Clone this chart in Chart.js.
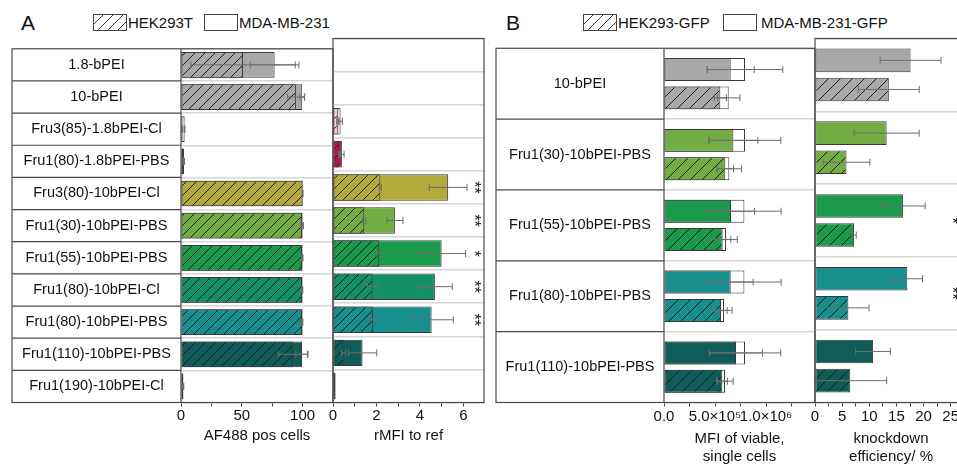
<!DOCTYPE html>
<html>
<head>
<meta charset="utf-8">
<script src="https://cdn.jsdelivr.net/npm/chart.js@4/dist/chart.umd.min.js"></script>
<style>
  html, body { margin: 0; padding: 0; background: #fff; overflow: hidden; }
  body { width: 957px; height: 464px; position: relative; font-family: "Liberation Sans", Arial, sans-serif; color: #111; }
  canvas { position: absolute; }
  .letter { position: absolute; font-size: 21px; line-height: 22px; }
  .sw { position: absolute; width: 32px; height: 15px; border: 1px solid #444; background: #fff; }
  .hatch { background: repeating-linear-gradient(135deg, #fff 0 6px, #333 6px 7px); }
  .key { position: absolute; font-size: 15px; line-height: 17px; white-space: nowrap; }
</style>
</head>
<body>
<div class="letter" style="left:21px;top:12px">A</div>
<span class="sw hatch" style="left:93px;top:14px"></span><span class="key" style="left:128px;top:14px">HEK293T</span>
<span class="sw" style="left:204px;top:14px"></span><span class="key" style="left:239px;top:14px">MDA-MB-231</span>
<div class="letter" style="left:506px;top:12px">B</div>
<span class="sw hatch" style="left:583px;top:14px"></span><span class="key" style="left:618px;top:14px">HEK293-GFP</span>
<span class="sw" style="left:723px;top:14px"></span><span class="key" style="left:761px;top:14px">MDA-MB-231-GFP</span>

<canvas id="af488" width="326" height="434" style="left:8px;top:30px"></canvas>
<canvas id="rmfi" width="167" height="434" style="left:323px;top:30px"></canvas>
<canvas id="mfi" width="324" height="440" style="left:492px;top:30px"></canvas>
<canvas id="kd" width="170" height="440" style="left:805px;top:30px"></canvas>

<script>
Chart.defaults.font.family = '"Liberation Sans", Arial, sans-serif';
Chart.defaults.font.size = 15;
Chart.defaults.color = '#111';
Chart.defaults.animation = false;

// ---------- panel A data ----------
const categoriesA = ['1.8-bPEI', '10-bPEI', 'Fru3(85)-1.8bPEI-Cl', 'Fru1(80)-1.8bPEI-PBS', 'Fru3(80)-10bPEI-Cl',
  'Fru1(30)-10bPEI-PBS', 'Fru1(55)-10bPEI-PBS', 'Fru1(80)-10bPEI-Cl', 'Fru1(80)-10bPEI-PBS',
  'Fru1(110)-10bPEI-PBS', 'Fru1(190)-10bPEI-Cl'];
const af488Hek    = [51, 94.5, 1, 2, 100, 99.5, 99.5, 99.5, 99.5, 92, 1.5];
const af488HekErr = [43, 7, 0.3, 0.5, 0.3, 1, 0.5, 0.3, 0.3, 12, 0.5];
const af488Mda    = [77, 99.7, 3, 2.5, 100, 100, 100, 100, 100, 99.5, 2];
const af488MdaErr = [20, 2, 0.3, 0.3, 0.2, 0.5, 0.3, 0.2, 0.2, 5, 0.3];
const rmfiHek     = [null, null, 0.22, 0.3, 2.18, 1.44, 2.13, 1.82, 1.85, 0.49, 0.08];
const rmfiHekErr  = [null, null, 0.05, 0.05, 0.05, 0.07, 0.1, 0.23, 0.2, 0.1, 0];
const rmfiMda     = [null, null, 0.35, 0.41, 5.3, 2.85, 5.0, 4.69, 4.54, 1.36, 0.12];
const rmfiMdaErr  = [null, null, 0.08, 0.1, 0.87, 0.37, 1.1, 0.8, 1.0, 0.65, 0];
const sigA = ['', '', '', '', '**', '**', '*', '**', '**', '', ''];

const af488Ticks = [0, 25, 50, 75, 100, 125];
const af488TickLabels = ['0', '', '50', '', '100', ''];
const rmfiTicks = [0, 1, 2, 3, 4, 5, 6];
const rmfiTickLabels = ['0', '', '2', '', '4', '', '6'];

// ---------- panel B data ----------
const categoriesB = ['10-bPEI', 'Fru1(30)-10bPEI-PBS', 'Fru1(55)-10bPEI-PBS', 'Fru1(80)-10bPEI-PBS', 'Fru1(110)-10bPEI-PBS'];
const mfiMda       = [6.54e5, 6.8e5, 6.57e5, 6.54e5, 7.06e5];
const mfiMdaErr    = [2.3e5, 2.4e5, 2.3e5, 2.2e5, 2.6e5];
const mfiMdaRef    = [7.94e5, 7.94e5, 7.88e5, 7.88e5, 7.94e5];
const mfiMdaRefErr = [3.7e5, 3.5e5, 3.6e5, 3.6e5, 3.5e5];
const mfiHek       = [5.52e5, 6.01e5, 5.75e5, 5.59e5, 5.72e5];
const mfiHekErr    = [0.6e5, 0.8e5, 0.8e5, 0.6e5, 0.5e5];
const mfiHekRef    = [6.34e5, 6.4e5, 6.08e5, 5.88e5, 5.98e5];
const mfiHekRefErr = [1.1e5, 1.2e5, 1.1e5, 0.8e5, 0.8e5];
const kdMda    = [17.6, 13.2, 16.2, 17.0, 10.7];
const kdMdaErr = [5.6, 6.0, 4.1, 2.8, 3.2];
const kdHek    = [13.6, 5.8, 7.2, 6.15, 6.5];
const kdHekErr = [5.6, 4.3, 0.4, 3.8, 6.7];
const sigB = ['', '', '*', '**', ''];

const mfiTicks = [0, 2.5e5, 5e5, 7.5e5, 1e6, 1.25e6];
const mfiTickLabels = ['0.0', '', '5.0×10⁵', '', '1.0×10⁶', ''];
const kdTicks = [0, 2.5, 5, 7.5, 10, 12.5, 15, 17.5, 20, 22.5, 25, 27.5];
const kdTickLabels = ['0', '', '5', '', '10', '', '15', '', '20', '', '25', ''];

// ---------- colours ----------
const gray = '#a8a8a8', pink = '#f3d2db', crimson = '#b2174b', olive = '#b3aa3b',
      lightGreen = '#71ad43', green = '#1b9a4b', tealGreen = '#149065', teal = '#168f8e',
      darkTeal = '#0f5c58', navy = '#163d5e';
const colorsA = [gray, gray, pink, crimson, olive, lightGreen, green, tealGreen, teal, darkTeal, navy];
const colorsB = [gray, lightGreen, green, teal, darkTeal];

const labelFont = '14.5px "Liberation Sans", Arial, sans-serif';

// diagonal "/" hatching over a fill colour
function hatch(color, gap) {
  const c = document.createElement('canvas');
  c.width = c.height = gap;
  const g = c.getContext('2d');
  g.fillStyle = color;
  g.fillRect(0, 0, gap, gap);
  g.strokeStyle = '#1c1c1c';
  g.lineWidth = 1;
  g.beginPath();
  g.moveTo(0, gap); g.lineTo(gap, 0);
  g.moveTo(-1, 1); g.lineTo(1, -1);
  g.moveTo(gap - 1, gap + 1); g.lineTo(gap + 1, gap - 1);
  g.stroke();
  return g.createPattern(c, 'repeat');
}

// padding that puts the row labels in the middle of the label column
function centerPad(labels, colWidth) {
  const g = document.createElement('canvas').getContext('2d');
  g.font = labelFont;
  const widest = Math.max(...labels.map(t => g.measureText(t).width));
  return (colWidth - widest) / 2;
}

// box round the plot (and the label cells when asked)
const framePlugin = {
  id: 'frame',
  afterDraw(chart, args, opts) {
    const { ctx, chartArea: a } = chart;
    const y = chart.scales.y;
    const left = opts.labelCells ? y.left : a.left;
    ctx.save();
    ctx.strokeStyle = '#4a4a4a';
    ctx.lineWidth = 1.2;
    ctx.strokeRect(left, a.top, a.right - left, a.bottom - a.top);
    if (opts.labelCells) {
      ctx.beginPath();
      ctx.moveTo(a.left, a.top); ctx.lineTo(a.left, a.bottom);
      for (let i = 1; i < chart.data.labels.length; i++) {
        const py = y.getPixelForValue(i - 0.5);
        ctx.moveTo(left, py); ctx.lineTo(a.left, py);
      }
      ctx.stroke();
    }
    ctx.restore();
  }
};

const errorBarPlugin = {
  id: 'errorBars',
  afterDatasetsDraw(chart) {
    const ctx = chart.ctx;
    ctx.save();
    ctx.strokeStyle = '#6e6e6e';
    ctx.lineWidth = 1;
    chart.data.datasets.forEach((ds, i) => {
      if (!ds.errorBars) return;
      const meta = chart.getDatasetMeta(i);
      const xs = chart.scales[meta.xAxisID];
      meta.data.forEach((bar, j) => {
        const v = ds.data[j], e = ds.errorBars[j];
        if (v == null || !e) return;
        const lo = xs.getPixelForValue(Math.max(0, v - e));
        const hi = xs.getPixelForValue(v + e);
        const cy = bar.y, h = 3.5;
        ctx.beginPath();
        ctx.moveTo(lo, cy); ctx.lineTo(hi, cy);
        ctx.moveTo(lo, cy - h); ctx.lineTo(lo, cy + h);
        ctx.moveTo(hi, cy - h); ctx.lineTo(hi, cy + h);
        ctx.stroke();
      });
    });
    ctx.restore();
  }
};

// significance stars, turned on their side
const sigPlugin = {
  id: 'sig',
  afterDraw(chart, args, opts) {
    if (!opts.marks) return;
    const { ctx, chartArea } = chart;
    const y = chart.scales.y;
    ctx.save();
    ctx.font = '16px "Liberation Sans", Arial, sans-serif';
    ctx.fillStyle = '#111';
    ctx.textAlign = 'center';
    ctx.textBaseline = 'middle';
    opts.marks.forEach((m, i) => {
      if (!m) return;
      ctx.save();
      ctx.translate(chartArea.right - opts.inset, y.getPixelForValue(i));
      ctx.rotate(Math.PI / 2);
      ctx.fillText(m, 0, 0);
      ctx.restore();
    });
    ctx.restore();
  }
};

function valueAxis(max, ticks, labels, title, height, tickPad, titlePad) {
  return {
    min: 0, max: max, stacked: false,
    afterBuildTicks: s => { s.ticks = ticks.map(v => ({ value: v })); },
    afterFit: s => { s.height = height; s.paddingLeft = 0; s.paddingRight = 0; },
    ticks: { callback: (v, i) => labels[i], padding: tickPad, color: '#111', maxRotation: 0, autoSkip: false },
    grid: { drawOnChartArea: false, tickLength: 4, tickColor: '#444' },
    border: { display: false },
    title: { display: true, text: title, color: '#111', padding: { top: 0, bottom: titlePad } }
  };
}

function rowAxis(colWidth, labels) {
  return {
    afterFit: s => { s.width = colWidth; },
    grid: { color: '#d5d5d5', lineWidth: 1.5, drawTicks: false },
    border: { display: false },
    ticks: {
      display: colWidth > 0, autoSkip: false, crossAlign: 'center', color: '#111',
      font: { size: 14.5 }, padding: colWidth > 0 ? centerPad(labels, colWidth) : 0
    }
  };
}

const barStyle = { borderColor: '#3a3a3a', borderWidth: 1, borderSkipped: false };

// ---------- A: AF488 pos cells ----------
new Chart(document.getElementById('af488'), {
  type: 'bar',
  data: {
    labels: categoriesA,
    datasets: [
      { label: 'HEK293T', data: af488Hek, errorBars: af488HekErr, backgroundColor: colorsA.map(c => hatch(c, 10)), grouped: false },
      { label: 'MDA-MB-231', data: af488Mda, errorBars: af488MdaErr, backgroundColor: colorsA, grouped: false }
    ]
  },
  options: {
    indexAxis: 'y', responsive: false,
    layout: { padding: { left: 4, top: 8.5, right: 1, bottom: 0 } },
    datasets: { bar: { ...barStyle, categoryPercentage: 1, barPercentage: 0.8 } },
    plugins: { legend: { display: false }, tooltip: { enabled: false }, frame: { labelCells: true } },
    scales: {
      x: valueAxis(125, af488Ticks, af488TickLabels, 'AF488 pos cells', 61.5, 0, 19.5),
      y: rowAxis(169, categoriesA)
    }
  },
  plugins: [framePlugin, errorBarPlugin]
});

// ---------- A: rMFI to ref ----------
new Chart(document.getElementById('rmfi'), {
  type: 'bar',
  data: {
    labels: categoriesA,
    datasets: [
      { label: 'HEK293T', data: rmfiHek, errorBars: rmfiHekErr, backgroundColor: colorsA.map(c => hatch(c, 10)), grouped: false },
      { label: 'MDA-MB-231', data: rmfiMda, errorBars: rmfiMdaErr, backgroundColor: colorsA, grouped: false }
    ]
  },
  options: {
    indexAxis: 'y', responsive: false,
    layout: { padding: { left: 10, top: 8.5, right: 6, bottom: 0 } },
    datasets: { bar: { ...barStyle, categoryPercentage: 1, barPercentage: 0.8 } },
    plugins: { legend: { display: false }, tooltip: { enabled: false }, sig: { marks: sigA, inset: 11 } },
    scales: {
      x: valueAxis(6.95, rmfiTicks, rmfiTickLabels, 'rMFI to ref', 61.5, 0, 19.5),
      y: rowAxis(0, categoriesA)
    }
  },
  plugins: [framePlugin, errorBarPlugin, sigPlugin]
});

// ---------- B: MFI of viable, single cells ----------
new Chart(document.getElementById('mfi'), {
  type: 'bar',
  data: {
    labels: categoriesB,
    datasets: [
      { label: 'MDA-MB-231-GFP', data: mfiMda, errorBars: mfiMdaErr, backgroundColor: colorsB, stack: 'mda' },
      { label: 'HEK293-GFP', data: mfiHek, errorBars: mfiHekErr, backgroundColor: colorsB.map(c => hatch(c, 12)), stack: 'hek' },
      { label: 'MDA-MB-231-GFP ref', data: mfiMdaRef, errorBars: mfiMdaRefErr, backgroundColor: '#fff', stack: 'mda' },
      { label: 'HEK293-GFP ref', data: mfiHekRef, errorBars: mfiHekRefErr, backgroundColor: '#fff', stack: 'hek' }
    ]
  },
  options: {
    indexAxis: 'y', responsive: false,
    layout: { padding: { left: 4, top: 8.5, right: 1, bottom: 0 } },
    datasets: { bar: { ...barStyle, categoryPercentage: 0.8, barPercentage: 0.81 } },
    plugins: { legend: { display: false }, tooltip: { enabled: false }, frame: { labelCells: true } },
    scales: {
      x: valueAxis(1.48e6, mfiTicks, mfiTickLabels, ['MFI of viable,', 'single cells'], 67.5, 1.5, 4),
      y: rowAxis(168, categoriesB)
    }
  },
  plugins: [framePlugin, errorBarPlugin]
});

// ---------- B: knockdown efficiency ----------
new Chart(document.getElementById('kd'), {
  type: 'bar',
  data: {
    labels: categoriesB,
    datasets: [
      { label: 'MDA-MB-231-GFP', data: kdMda, errorBars: kdMdaErr, backgroundColor: colorsB, stack: 'mda' },
      { label: 'HEK293-GFP', data: kdHek, errorBars: kdHekErr, backgroundColor: colorsB.map(c => hatch(c, 12)), stack: 'hek' }
    ]
  },
  options: {
    indexAxis: 'y', responsive: false,
    layout: { padding: { left: 10, top: 8.5, right: 8, bottom: 0 } },
    datasets: { bar: { ...barStyle, categoryPercentage: 0.8, barPercentage: 0.81 } },
    plugins: { legend: { display: false }, tooltip: { enabled: false }, sig: { marks: sigB, inset: 15.5 } },
    scales: {
      x: valueAxis(28, kdTicks, kdTickLabels, ['knockdown', 'efficiency/ %'], 67.5, 1.5, 4),
      y: rowAxis(0, categoriesB)
    }
  },
  plugins: [framePlugin, errorBarPlugin, sigPlugin]
});
</script>
</body>
</html>
